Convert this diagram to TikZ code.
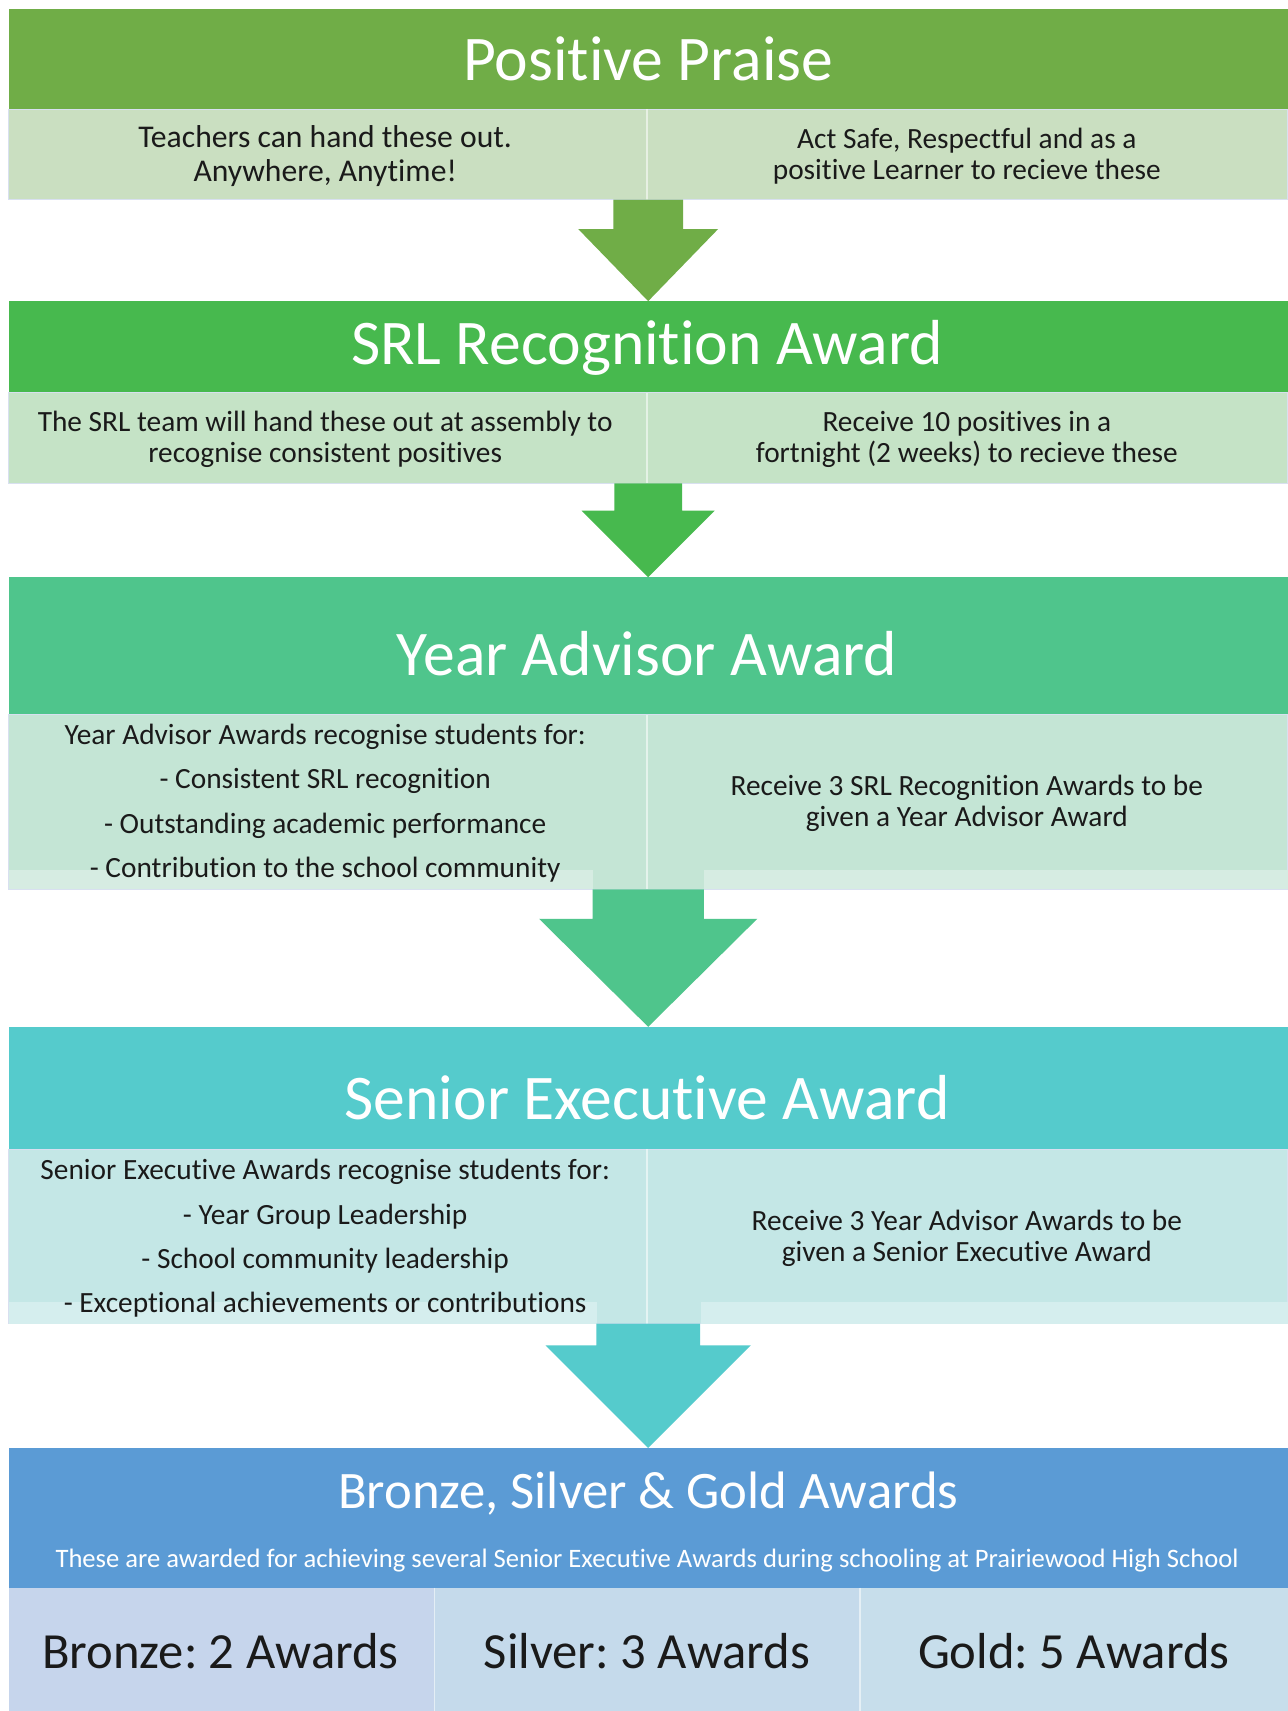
\documentclass[tikz,border=0pt]{standalone}
\usepackage{fontspec}
\setmainfont{Carlito}[Ligatures={NoCommon,NoRare,NoContextual}]
\usetikzlibrary{calc}
\frenchspacing

% palette
\definecolor{ppGreen}{HTML}{70AD47}
\definecolor{ppLight}{HTML}{CADFC1}
\definecolor{srlGreen}{HTML}{47B94E}
\definecolor{srlLight}{HTML}{C5E3C6}
\definecolor{yaGreen}{HTML}{4FC58C}
\definecolor{yaLight}{HTML}{C4E5D5}
\definecolor{yaStrip}{HTML}{D6ECE2}
\definecolor{seTeal}{HTML}{55CBCC}
\definecolor{seLight}{HTML}{C4E7E6}
\definecolor{seStrip}{HTML}{D5EEEE}
\definecolor{bsgBlue}{HTML}{5B9BD5}
\definecolor{bronzeCell}{HTML}{C6D5EC}
\definecolor{silverCell}{HTML}{C5DAEB}
\definecolor{goldCell}{HTML}{C7DEEB}
\definecolor{rowEdge}{HTML}{D8E0F0}
\definecolor{inkText}{HTML}{1A1A1A}

% block arrow from the bottom of one row to the top of the next band
% #1 source node, #2 target node, #3 stem half width, #4 head half width, #5 stem length, #6 colour
\newcommand{\flowarrow}[6]{%
  \fill[#6] ($(#1.south)+(-#3,0)$) -- ($(#1.south)+(-#3,#5)$) -- ($(#1.south)+(-#4,#5)$)
    -- (#2.north) -- ($(#1.south)+(#4,#5)$) -- ($(#1.south)+(#3,#5)$) -- ($(#1.south)+(#3,0)$) -- cycle;}

\begin{document}
\begin{tikzpicture}[x=1pt,y=-1pt,
  band/.style={anchor=north west, inner sep=0pt, outer sep=0pt, minimum width=1172pt},
  cell/.style={anchor=north west, inner sep=0pt, outer sep=0pt},
  headtxt/.style={text=white, inner sep=0pt, font=\fontsize{58.3}{66}\selectfont},
  bodytxt/.style={text=inkText, inner sep=0pt, align=center, font=\fontsize{26.9}{28.5}\selectfont},
  listtxt/.style={text=inkText, inner sep=0pt, align=center, font=\fontsize{26.9}{40.7}\selectfont},
  bigtxt/.style={text=inkText, inner sep=0pt, font=\fontsize{46.4}{54}\selectfont},
  divider/.style={draw=white, draw opacity=0.55, line width=1.2pt}]

\useasboundingbox (0,0) rectangle (1180,1568);
\fill[white] (0,0) rectangle (1180,1568);

% ---------- Positive Praise ----------
\node[band, fill=ppGreen, minimum height=92pt] (h1) at (8,8) {};
\node[band, fill=ppLight, draw=rowEdge, line width=0.8pt, minimum height=83pt] (r1) at (8,100) {};
\draw[divider] (593,100) -- (593,183);
\node[headtxt] (t1) at (594,54) {Positive Praise};
\node[bodytxt, font=\fontsize{29}{32}\selectfont] (t1l) at (298,143) {Teachers can hand these out.\\Anywhere, Anytime!};
\node[bodytxt] (t1r) at (886,143) {Act Safe, Respectful and as a\\positive Learner to recieve these};

% ---------- SRL Recognition Award ----------
\node[band, fill=srlGreen, minimum height=84pt] (h2) at (8,276) {};
\node[band, fill=srlLight, draw=rowEdge, line width=0.8pt, minimum height=83pt] (r2) at (8,360) {};
\draw[divider] (593,360) -- (593,443);
\node[headtxt] (t2) at (593,319) {SRL Recognition Award};
\node[bodytxt] (t2l) at (298,403) {The SRL team will hand these out at assembly to\\recognise consistent positives};
\node[bodytxt] (t2r) at (886,403) {Receive 10 positives in a\\fortnight (2 weeks) to recieve these};

% ---------- Year Advisor Award ----------
\node[band, fill=yaGreen, minimum height=126pt] (h3) at (8,529) {};
\node[band, fill=yaLight, draw=rowEdge, line width=0.8pt, minimum height=160pt] (r3) at (8,655) {};
\fill[yaStrip] (8,797) rectangle (543,815);
\fill[yaStrip] (645,797) rectangle (1180,815);
\draw[divider] (593,655) -- (593,815);
\node[headtxt] (t3) at (593,599) {Year Advisor Award};
\node[listtxt] (t3l) at (298,736) {Year Advisor Awards recognise students for:\\- Consistent SRL recognition\\- Outstanding academic performance\\- Contribution to the school community};
\node[bodytxt] (t3r) at (886,736) {Receive 3 SRL Recognition Awards to be\\given a Year Advisor Award};

% ---------- Senior Executive Award ----------
\node[band, fill=seTeal, minimum height=112pt] (h4) at (8,941) {};
\node[band, fill=seLight, draw=rowEdge, line width=0.8pt, minimum height=160pt] (r4) at (8,1053) {};
\fill[seStrip] (8,1193) rectangle (547,1213);
\fill[seStrip] (642,1193) rectangle (1180,1213);
\draw[divider] (593,1053) -- (593,1213);
\node[headtxt] (t4) at (593,1006) {Senior Executive Award};
\node[listtxt] (t4l) at (298,1135) {Senior Executive Awards recognise students for:\\- Year Group Leadership\\- School community leadership\\- Exceptional achievements or contributions};
\node[bodytxt] (t4r) at (886,1135) {Receive 3 Year Advisor Awards to be\\given a Senior Executive Award};

% ---------- Bronze, Silver & Gold Awards ----------
\node[band, fill=bsgBlue, minimum height=128pt] (h5) at (8,1327) {};
\node[cell, fill=bronzeCell, minimum width=390pt, minimum height=113pt] (c1) at (8,1455) {};
\node[cell, fill=silverCell, minimum width=390pt, minimum height=113pt] (c2) at (398,1455) {};
\node[cell, fill=goldCell, minimum width=392pt, minimum height=113pt] (c3) at (788,1455) {};
\draw[divider] (398,1455) -- (398,1568);
\draw[divider] (788,1455) -- (788,1568);
\node[headtxt, font=\fontsize{48.3}{55}\selectfont] (t5) at (594,1369) {Bronze, Silver \& Gold Awards};
\node[headtxt, font=\fontsize{24.4}{28}\selectfont] (t5s) at (593,1430) {These are awarded for achieving several Senior Executive Awards during schooling at Prairiewood High School};
\node[bigtxt] (b1) at (202,1513) {Bronze: 2 Awards};
\node[bigtxt] (b2) at (593,1513) {Silver: 3 Awards};
\node[bigtxt] (b3) at (984,1513) {Gold: 5 Awards};

% ---------- connecting arrows ----------
\flowarrow{r1}{h2}{32}{64}{27}{ppGreen}
\flowarrow{r2}{h3}{31}{61}{25}{srlGreen}
\flowarrow{r3}{h4}{51}{100}{27}{yaGreen}
\flowarrow{r4}{h5}{47.5}{94}{20}{seTeal}
\end{tikzpicture}
\end{document}
